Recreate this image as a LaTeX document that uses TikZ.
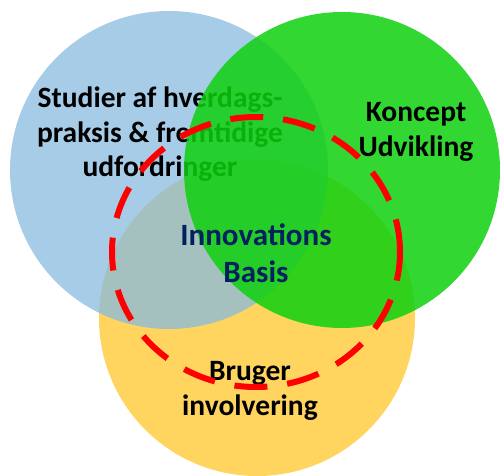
\documentclass[tikz,border=0pt]{standalone}
\usepackage{fontspec}
\setmainfont{Carlito}
\definecolor{bluec}{RGB}{136,187,224}
\definecolor{yellowc}{RGB}{255,213,95}
\definecolor{greenc}{RGB}{14,208,14}
\definecolor{navyc}{RGB}{0,32,96}
\definecolor{redc}{RGB}{255,0,0}
\begin{document}
\begin{tikzpicture}[x=1pt,y=-1pt,
  lbl/.style={font=\bfseries\fontsize{29.5}{35}\selectfont, align=center, anchor=base, inner sep=0pt},
  biglbl/.style={font=\bfseries\fontsize{31}{37}\selectfont, align=center, anchor=base, inner sep=0pt, text=navyc},
  ring/.style={draw=redc, line width=6pt, dash pattern=on 33pt off 20pt, line cap=butt}]
\useasboundingbox (0,0) rectangle (501,476);
\fill[yellowc] (257,318) circle (158pt);
\fill[bluec, opacity=0.75] (169,170) circle (159pt);
\node[lbl] (studier) at (160,177) {Studier af hverdags-\\praksis \& fremtidige\\udfordringer};
\fill[greenc, opacity=0.85] (342,170) circle (158pt);
\node[lbl] (koncept) at (416,157) {Koncept\\Udvikling};
\node[biglbl] (innov) at (256,282) {Innovations\\Basis};
\node[lbl] (bruger) at (250,415) {Bruger\\involvering};
\draw[ring] (256,252) ellipse [x radius=144pt, y radius=135pt];
\end{tikzpicture}
\end{document}
